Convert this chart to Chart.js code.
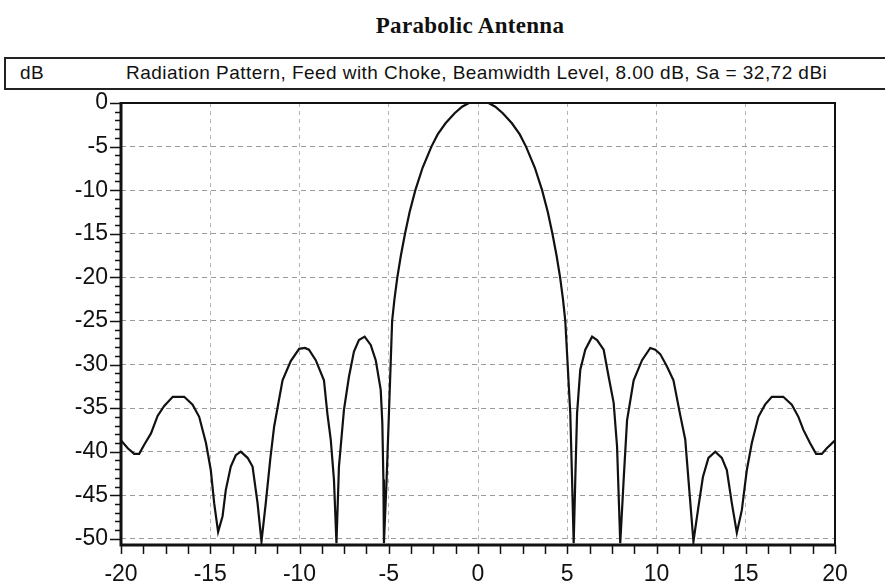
<!DOCTYPE html>
<html>
<head>
<meta charset="utf-8">
<script src="https://cdn.jsdelivr.net/npm/chart.js@4.4.1/dist/chart.umd.min.js"></script>
<style>
  body { margin: 0; background: #fff; }
  #wrap { position: relative; width: 885px; height: 585px; overflow: hidden; background: #fff; }
  #title { position: absolute; left: 0; width: 940px; top: 13px; text-align: center;
    font: bold 23px "Liberation Serif", "DejaVu Serif", serif; color: #111; letter-spacing: 0.3px; }
  #hdr { position: absolute; left: 4px; top: 57px; width: 900px; height: 29px;
    border: 2px solid #222; font: 19px "Liberation Sans", Arial, sans-serif; color: #111; }
  #hdr .unit { position: absolute; left: 14px; top: 3px; letter-spacing: 0.5px; }
  #hdr .txt { position: absolute; left: 120px; top: 3px; white-space: nowrap; letter-spacing: 0.45px; }
  canvas { position: absolute; left: 0; top: 0; }
</style>
</head>
<body>
<div id="wrap">
  <div id="title">Parabolic Antenna</div>
  <div id="hdr"><span class="unit">dB</span><span class="txt">Radiation Pattern, Feed with Choke, Beamwidth Level, 8.00 dB, Sa = 32,72 dBi</span></div>
  <canvas id="chart" width="885" height="585"></canvas>
</div>
<script>
// angle (deg) and level (dB)
const angles = [
  -20, -19.62, -19.26, -18.98, -18.7, -18.32, -17.95, -17.58, -17.1, -16.46,
  -15.99, -15.62, -15.24, -14.97, -14.78, -14.56, -14.31, -14.13, -13.85, -13.57,
  -13.29, -12.91, -12.63, -12.35, -12.13, -11.89, -11.64, -11.42, -10.95, -10.49,
  -10.02, -9.7, -9.47, -9.09, -8.63, -8.44, -8.25, -8.07, -7.93, -7.79,
  -7.51, -7.23, -6.95, -6.67, -6.35, -6.01, -5.73, -5.45, -5.36, -5.3,
  -5.27, -5.12, -4.99, -4.81, -4.68, -4.52, -4.32, -4.09, -3.83, -3.51,
  -3.10, -2.61, -2.26, -1.82, -1.31, -0.89, -0.51, 0.59, 0.97, 1.39,
  1.90, 2.34, 2.69, 3.18, 3.59, 3.91, 4.17, 4.40, 4.60, 4.76,
  4.89, 5.02, 5.17, 5.27, 5.36, 5.45, 5.55, 5.73, 6.01, 6.39,
  6.67, 7.04, 7.32, 7.6, 7.79, 7.97, 8.16, 8.35, 8.72, 9.19,
  9.65, 9.93, 10.21, 10.58, 10.95, 11.33, 11.61, 11.79, 12.07, 12.35,
  12.6, 12.91, 13.29, 13.66, 13.94, 14.22, 14.5, 14.78, 15.06, 15.34,
  15.71, 16.08, 16.46, 17.1, 17.58, 17.95, 18.23, 18.6, 18.94, 19.26,
  19.54, 20
];
const levels = [
  -38.7, -39.6, -40.25, -40.25, -39.2, -37.9, -35.9, -34.75, -33.7, -33.7,
  -34.6, -36.0, -39.0, -42.1, -45.9, -49.2, -47.4, -44.4, -41.7, -40.4,
  -40.0, -40.7, -41.7, -45.9, -50.3, -45.9, -40.9, -37.1, -31.8, -29.6,
  -28.2, -28.1, -28.3, -29.5, -31.8, -35.6, -38.6, -43.2, -50.5, -41.7,
  -35.2, -31.4, -28.5, -27.2, -26.8, -27.75, -29.5, -32.9, -36.7, -43.2,
  -50.5, -43.2, -35.6, -25.0, -22.5, -20.0, -17.5, -15.0, -12.5, -10.0,
  -7.4, -5.0, -3.6, -2.33, -1.18, -0.42, 0, 0, -0.42, -1.18,
  -2.33, -3.6, -5.0, -7.4, -10.0, -12.5, -15.0, -17.5, -20.0, -22.5,
  -25.0, -29.9, -35.6, -43.2, -50.5, -43.2, -35.6, -30.6, -28.3, -26.8,
  -27.2, -28.3, -31.4, -34.4, -39.4, -50.5, -43.2, -36.4, -31.8, -29.5,
  -28.1, -28.3, -28.8, -30.2, -31.8, -35.8, -38.6, -43.2, -50.3, -46.3,
  -42.9, -40.7, -40.0, -40.7, -42.1, -45.9, -49.3, -46.7, -42.1, -39.0,
  -36.0, -34.6, -33.7, -33.7, -34.6, -36.0, -37.5, -39.0, -40.25, -40.25,
  -39.6, -38.7
];
const xTicks = [-20, -15, -10, -5, 0, 5, 10, 15, 20];
const yTicks = [0, -5, -10, -15, -20, -25, -30, -35, -40, -45, -50];
const xMinorStep = 1.25;
const yMinorStep = 1;

const points = angles.map((a, i) => ({ x: a, y: levels[i] }));

// frame and tick marks, placed with the chart's own scales
const framePlugin = {
  id: 'frame',
  afterDraw(chart) {
    const { ctx, chartArea: a, scales: { x, y } } = chart;
    ctx.save();
    ctx.strokeStyle = '#111';
    ctx.lineWidth = 1.5;
    for (let v = -20; v <= 20.001; v += xMinorStep) {
      const px = Math.round(x.getPixelForValue(v)) + 0.5;
      ctx.beginPath();
      ctx.moveTo(px, a.bottom);
      ctx.lineTo(px, a.bottom + 9);
      ctx.stroke();
    }
    for (let v = 0; v >= -50; v -= yMinorStep) {
      const py = Math.round(y.getPixelForValue(v)) + 0.5;
      const major = v % 5 === 0;
      ctx.beginPath();
      ctx.moveTo(a.left, py);
      ctx.lineTo(a.left - (major ? 11 : 6), py);
      ctx.stroke();
    }
    ctx.lineWidth = 2;
    ctx.beginPath();
    ctx.moveTo(a.left, a.top);
    ctx.lineTo(a.right, a.top);
    ctx.lineTo(a.right, a.bottom);
    ctx.stroke();
    ctx.lineWidth = 3;
    ctx.beginPath();
    ctx.moveTo(a.left, a.top - 1);
    ctx.lineTo(a.left, a.bottom);
    ctx.lineTo(a.right + 1, a.bottom);
    ctx.stroke();
    ctx.restore();
  }
};

new Chart(document.getElementById('chart'), {
  type: 'scatter',
  data: {
    datasets: [{
      data: points,
      showLine: true,
      borderColor: '#111',
      borderWidth: 2.2,
      pointRadius: 0,
      tension: 0
    }]
  },
  options: {
    responsive: false,
    animation: false,
    layout: { padding: { top: 103, right: 50, left: 0, bottom: 0 } },
    plugins: { legend: { display: false }, tooltip: { enabled: false } },
    scales: {
      x: {
        type: 'linear', min: -20, max: 20,
        afterBuildTicks: s => { s.ticks = xTicks.map(v => ({ value: v })); },
        afterFit: s => { s.height = 40; },
        grid: { color: '#b4b4b4', lineWidth: 1, drawTicks: false },
        border: { display: false, dash: [4, 4] },
        ticks: {
          padding: 16, color: '#111',
          font: { family: '"Liberation Sans", Arial, sans-serif', size: 23 },
          callback: v => String(v)
        }
      },
      y: {
        type: 'linear', min: -50.7, max: 0,
        afterBuildTicks: s => { s.ticks = yTicks.map(v => ({ value: v })); },
        afterFit: s => { s.width = 121; },
        grid: { color: '#9a9a9a', lineWidth: 1, drawTicks: false },
        border: { display: false, dash: [5, 4] },
        ticks: {
          padding: 13, color: '#111',
          font: { family: '"Liberation Sans", Arial, sans-serif', size: 23 },
          callback: v => String(v)
        }
      }
    }
  },
  plugins: [framePlugin]
});
</script>
</body>
</html>
